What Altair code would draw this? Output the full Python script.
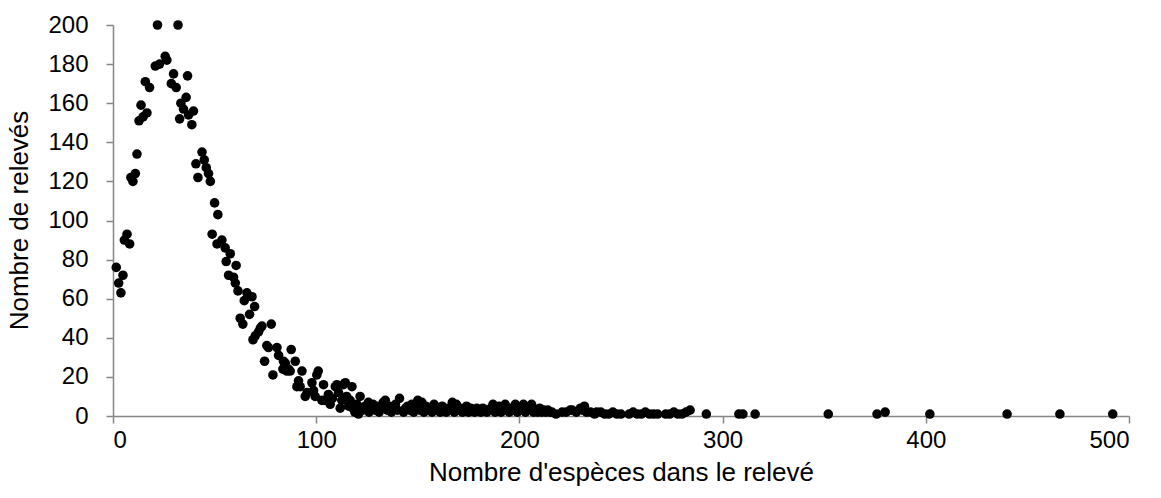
import altair as alt
import pandas as pd

# Number of species in the relevé (x) and number of relevés (y)
species = [
    1.6, 2.8, 3.9, 4.9, 5.6, 6.9, 8.2, 8.8, 9.8, 11, 11.8, 12.8, 13.8, 14.8, 15.9, 16.7, 18,
    20.8, 21.9, 22.9, 25.7, 26.5, 28.7, 29.8, 31.1, 32, 32.8, 33.4, 34.7, 36, 36.7, 37.2,
    38.8, 39.6, 40.8, 41.8, 43.8, 44.9, 45.9, 47, 47.9, 48.8, 50, 51.2, 51.6, 53.6, 55.2,
    55.7, 56.9, 57.7, 59.3, 60.2, 60.6, 61.5, 62.6, 63.9, 64.6, 65.9, 67.2, 68.4, 68.9,
    69.7, 70, 71.6, 72.5, 73.3, 74.6, 75.7, 76.5, 77.9, 78.7, 80.7, 81.5, 83.6, 83.9, 84.8,
    85.6, 86.4, 87.2, 87.7, 89.7, 90.5, 91.3, 92.1, 93, 94.6, 95.5, 97.9, 98.7, 99.5,
    100.3, 101, 102.8, 103.6, 104.4, 106, 106.9, 108, 109.4, 110.2, 111, 111.8, 112.6,
    113.4, 114.3, 115, 116, 116.7, 117.6, 118, 119, 120, 120.8, 121.6, 122, 123, 124,
    125.7, 126, 127, 128, 129, 130, 131, 132, 133, 134, 135, 136, 137, 138, 139, 140, 141,
    143, 144, 145, 146, 147, 148, 149, 150, 151, 152, 153, 154, 155, 156, 157, 158, 159,
    160, 161, 162, 163, 164, 165, 166, 167, 168, 169, 170, 171, 172, 173, 174, 175, 176,
    177, 178, 179, 180, 181, 182, 183, 184, 185, 186, 187, 188, 189, 190, 191, 192, 193,
    194, 195, 196, 197, 198, 199, 200, 201, 202, 203, 204, 205, 206, 207, 208, 209, 210,
    211, 212, 213, 214, 215, 216, 218, 221, 223, 225, 226, 228, 230, 231, 232, 233, 235,
    237, 238, 240, 242, 244, 246, 248, 250, 254, 256, 258, 260, 262, 264, 266, 268, 272,
    274, 276, 278, 280, 282, 284, 292, 308, 310, 316, 352, 376, 380, 402, 440, 466, 492,
]
releves = [
    76, 68, 63, 72, 90, 93, 88, 122, 120, 124, 134, 151, 159, 153, 171, 155, 168,
    179, 200, 180, 184, 182, 170, 175, 168, 200, 152, 160, 157, 163, 174, 154,
    149, 156, 129, 122, 135, 131, 127, 124, 120, 93, 109, 88, 103, 90, 86,
    79, 72, 83, 71, 68, 77, 64, 50, 47, 59, 63, 52, 61, 39,
    56, 41, 43, 45, 46, 28, 36, 35, 47, 21, 35, 31, 24, 28, 27,
    23, 24, 23, 34, 28, 15, 18, 15, 23, 10, 12, 17, 13, 10,
    21, 23, 8, 16, 8, 11, 6, 9, 15, 16, 12, 4, 8,
    16, 17, 10, 5, 8, 15, 4, 2, 6, 1, 10, 4, 3, 5,
    7, 2, 4, 6, 3, 5, 2, 4, 7, 8, 3, 5, 2, 4, 6, 3, 9,
    2, 4, 5, 3, 6, 2, 4, 8, 3, 7, 2, 5, 3, 4, 2, 6, 3,
    4, 2, 5, 3, 2, 4, 3, 7, 2, 6, 3, 4, 2, 3, 5, 2, 4,
    3, 2, 4, 3, 2, 4, 3, 2, 3, 4, 6, 2, 3, 5, 2, 4, 6,
    3, 2, 4, 3, 6, 2, 4, 3, 6, 2, 3, 4, 6, 2, 3, 2, 4,
    2, 3, 2, 3, 2, 2, 1, 2, 2, 3, 3, 2, 4, 3, 5, 2, 2,
    1, 2, 2, 1, 1, 2, 1, 1, 1, 2, 1, 1, 2, 1, 1, 1, 1,
    1, 2, 1, 1, 2, 3, 1, 1, 1, 1, 1, 1, 2, 1, 1, 1, 1,
]

x_ticks = [0, 100, 200, 300, 400, 500]
y_ticks = [0, 20, 40, 60, 80, 100, 120, 140, 160, 180, 200]

df = pd.DataFrame({"especes": species, "releves": releves})

FONT = "Liberation Sans"
GRAY = "#868686"

chart = (
    alt.Chart(df)
    .mark_circle(size=92, color="#000000", opacity=1)
    .encode(
        x=alt.X(
            "especes:Q",
            scale=alt.Scale(domain=[0, 500], nice=False, zero=False),
            axis=alt.Axis(
                values=x_ticks,
                title="Nombre d'espèces dans le relevé",
                titleX=508,
                titleY=56,
                titleBaseline="middle",
                titleAlign="center",
                labelPadding=5,
            ),
        ),
        y=alt.Y(
            "releves:Q",
            scale=alt.Scale(domain=[0, 200], nice=False),
            axis=alt.Axis(
                values=y_ticks,
                title="Nombre de relevés",
                titleX=-94,
                titleY=195,
                titleAngle=270,
                titleBaseline="middle",
                titleAlign="center",
                labelPadding=18,
            ),
        ),
    )
    .properties(
        width=1016,
        height=391,
        autosize=alt.AutoSizeParams(type="none"),
        padding={"left": 113, "top": 25, "right": 32, "bottom": 82},
        background="#ffffff",
    )
    .configure_view(stroke=None)
    .configure_axis(
        grid=False,
        domainColor=GRAY,
        domainWidth=1.5,
        tickColor=GRAY,
        tickWidth=1.5,
        tickSize=7,
        labelFont=FONT,
        labelFontSize=24,
        labelColor="#000000",
        titleFont=FONT,
        titleFontSize=26,
        titleFontWeight="normal",
        titleColor="#000000",
    )
)

chart.save("out.html", embed_options={"renderer": "svg", "actions": False})
